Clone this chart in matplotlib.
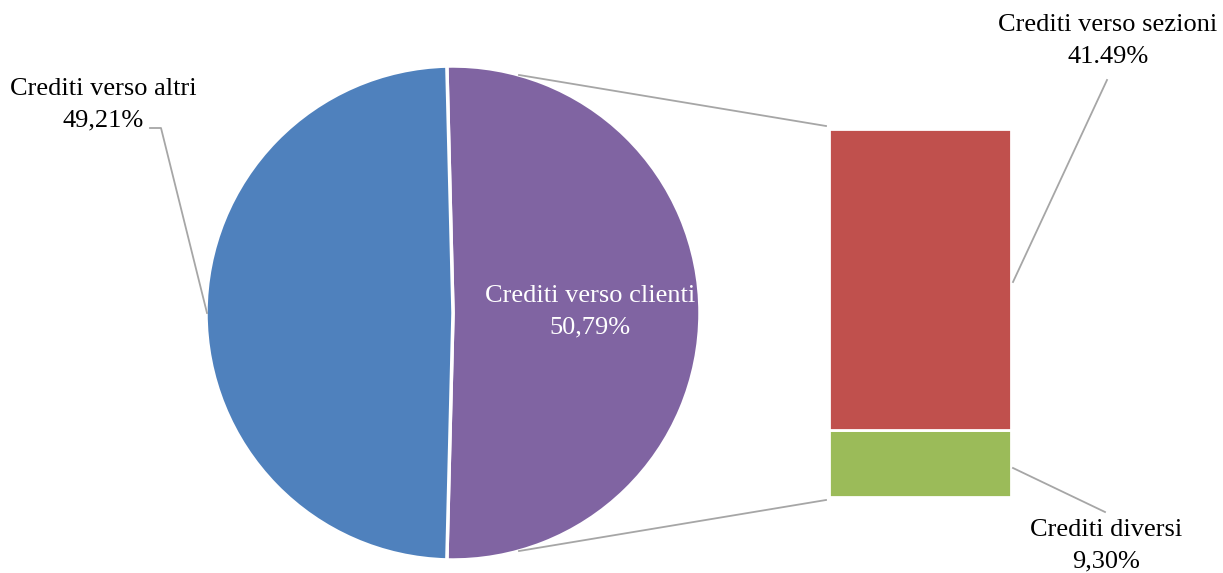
import numpy as np
import matplotlib
matplotlib.use("Agg")
import matplotlib.pyplot as plt

# pie: main split
pie_labels = ["Crediti verso clienti", "Crediti verso altri"]
pie_values = [50.79, 49.21]
pie_texts = ["50,79%", "49,21%"]
pie_colors = ["#8064A2", "#4F81BD"]

# bar: breakdown of "Crediti verso clienti"
bar_labels = ["Crediti diversi", "Crediti verso sezioni"]
bar_values = [9.30, 41.49]
bar_texts = ["9,30%", "41.49%"]
bar_colors = ["#9BBB59", "#C0504D"]

plt.rcParams["font.family"] = ["Liberation Serif", "DejaVu Serif"]

W, H = 1223, 573
fig = plt.figure(figsize=(W / 100, H / 100), dpi=100)
ax = fig.add_axes([0, 0, 1, 1])

cx, cy, r = 453, H - 313, 247
split_angle = pie_values[0] / sum(pie_values) * 360
ax.pie(pie_values, colors=pie_colors, center=(cx, cy), radius=r,
       startangle=-split_angle / 2, counterclock=True,
       wedgeprops=dict(edgecolor="white", linewidth=2.5), frame=True)
ax.set_xlim(0, W)
ax.set_ylim(0, H)
ax.axis("off")

# stacked bar
bx, bw = 920, 182
bar_bottom = H - 497
bar_total_h = 368
scale = bar_total_h / sum(bar_values)
bottom = bar_bottom
for val, col in zip(bar_values, bar_colors):
    ax.bar(bx, val * scale, width=bw, bottom=bottom, color=col,
           edgecolor="white", linewidth=2)
    bottom += val * scale

# connector lines from pie to bar
gray = "#A6A6A6"
ang = np.deg2rad(74.5)
ax.plot([cx + r * np.cos(ang), bx - bw / 2 - 3], [cy + r * np.sin(ang), bottom + 3],
        color=gray, lw=1.3)
ax.plot([cx + r * np.cos(ang), bx - bw / 2 - 3], [cy - r * np.sin(ang), bar_bottom - 3],
        color=gray, lw=1.3)

fs = 19
ls = 1.55
# inner label
ax.text(590, H - 312, pie_labels[0] + "\n" + pie_texts[0], color="white",
        fontsize=fs, ha="center", va="center", linespacing=ls)

# outer labels with leader lines
ax.text(103, H - 105, pie_labels[1] + "\n" + pie_texts[1], color="black",
        fontsize=fs, ha="center", va="center", linespacing=ls)
ax.plot([150, 161, 207], [H - 128, H - 128, H - 313], color=gray, lw=1.3)

ax.text(1108, H - 41, bar_labels[1] + "\n" + bar_texts[1], color="black",
        fontsize=fs, ha="center", va="center", linespacing=ls)
ax.plot([1107, 1013], [H - 80, H - 282], color=gray, lw=1.3)

ax.text(1106, H - 546, bar_labels[0] + "\n" + bar_texts[0], color="black",
        fontsize=fs, ha="center", va="center", linespacing=ls)
ax.plot([1013, 1105], [H - 468, H - 512], color=gray, lw=1.3)

fig.savefig("out.png", dpi=100)
